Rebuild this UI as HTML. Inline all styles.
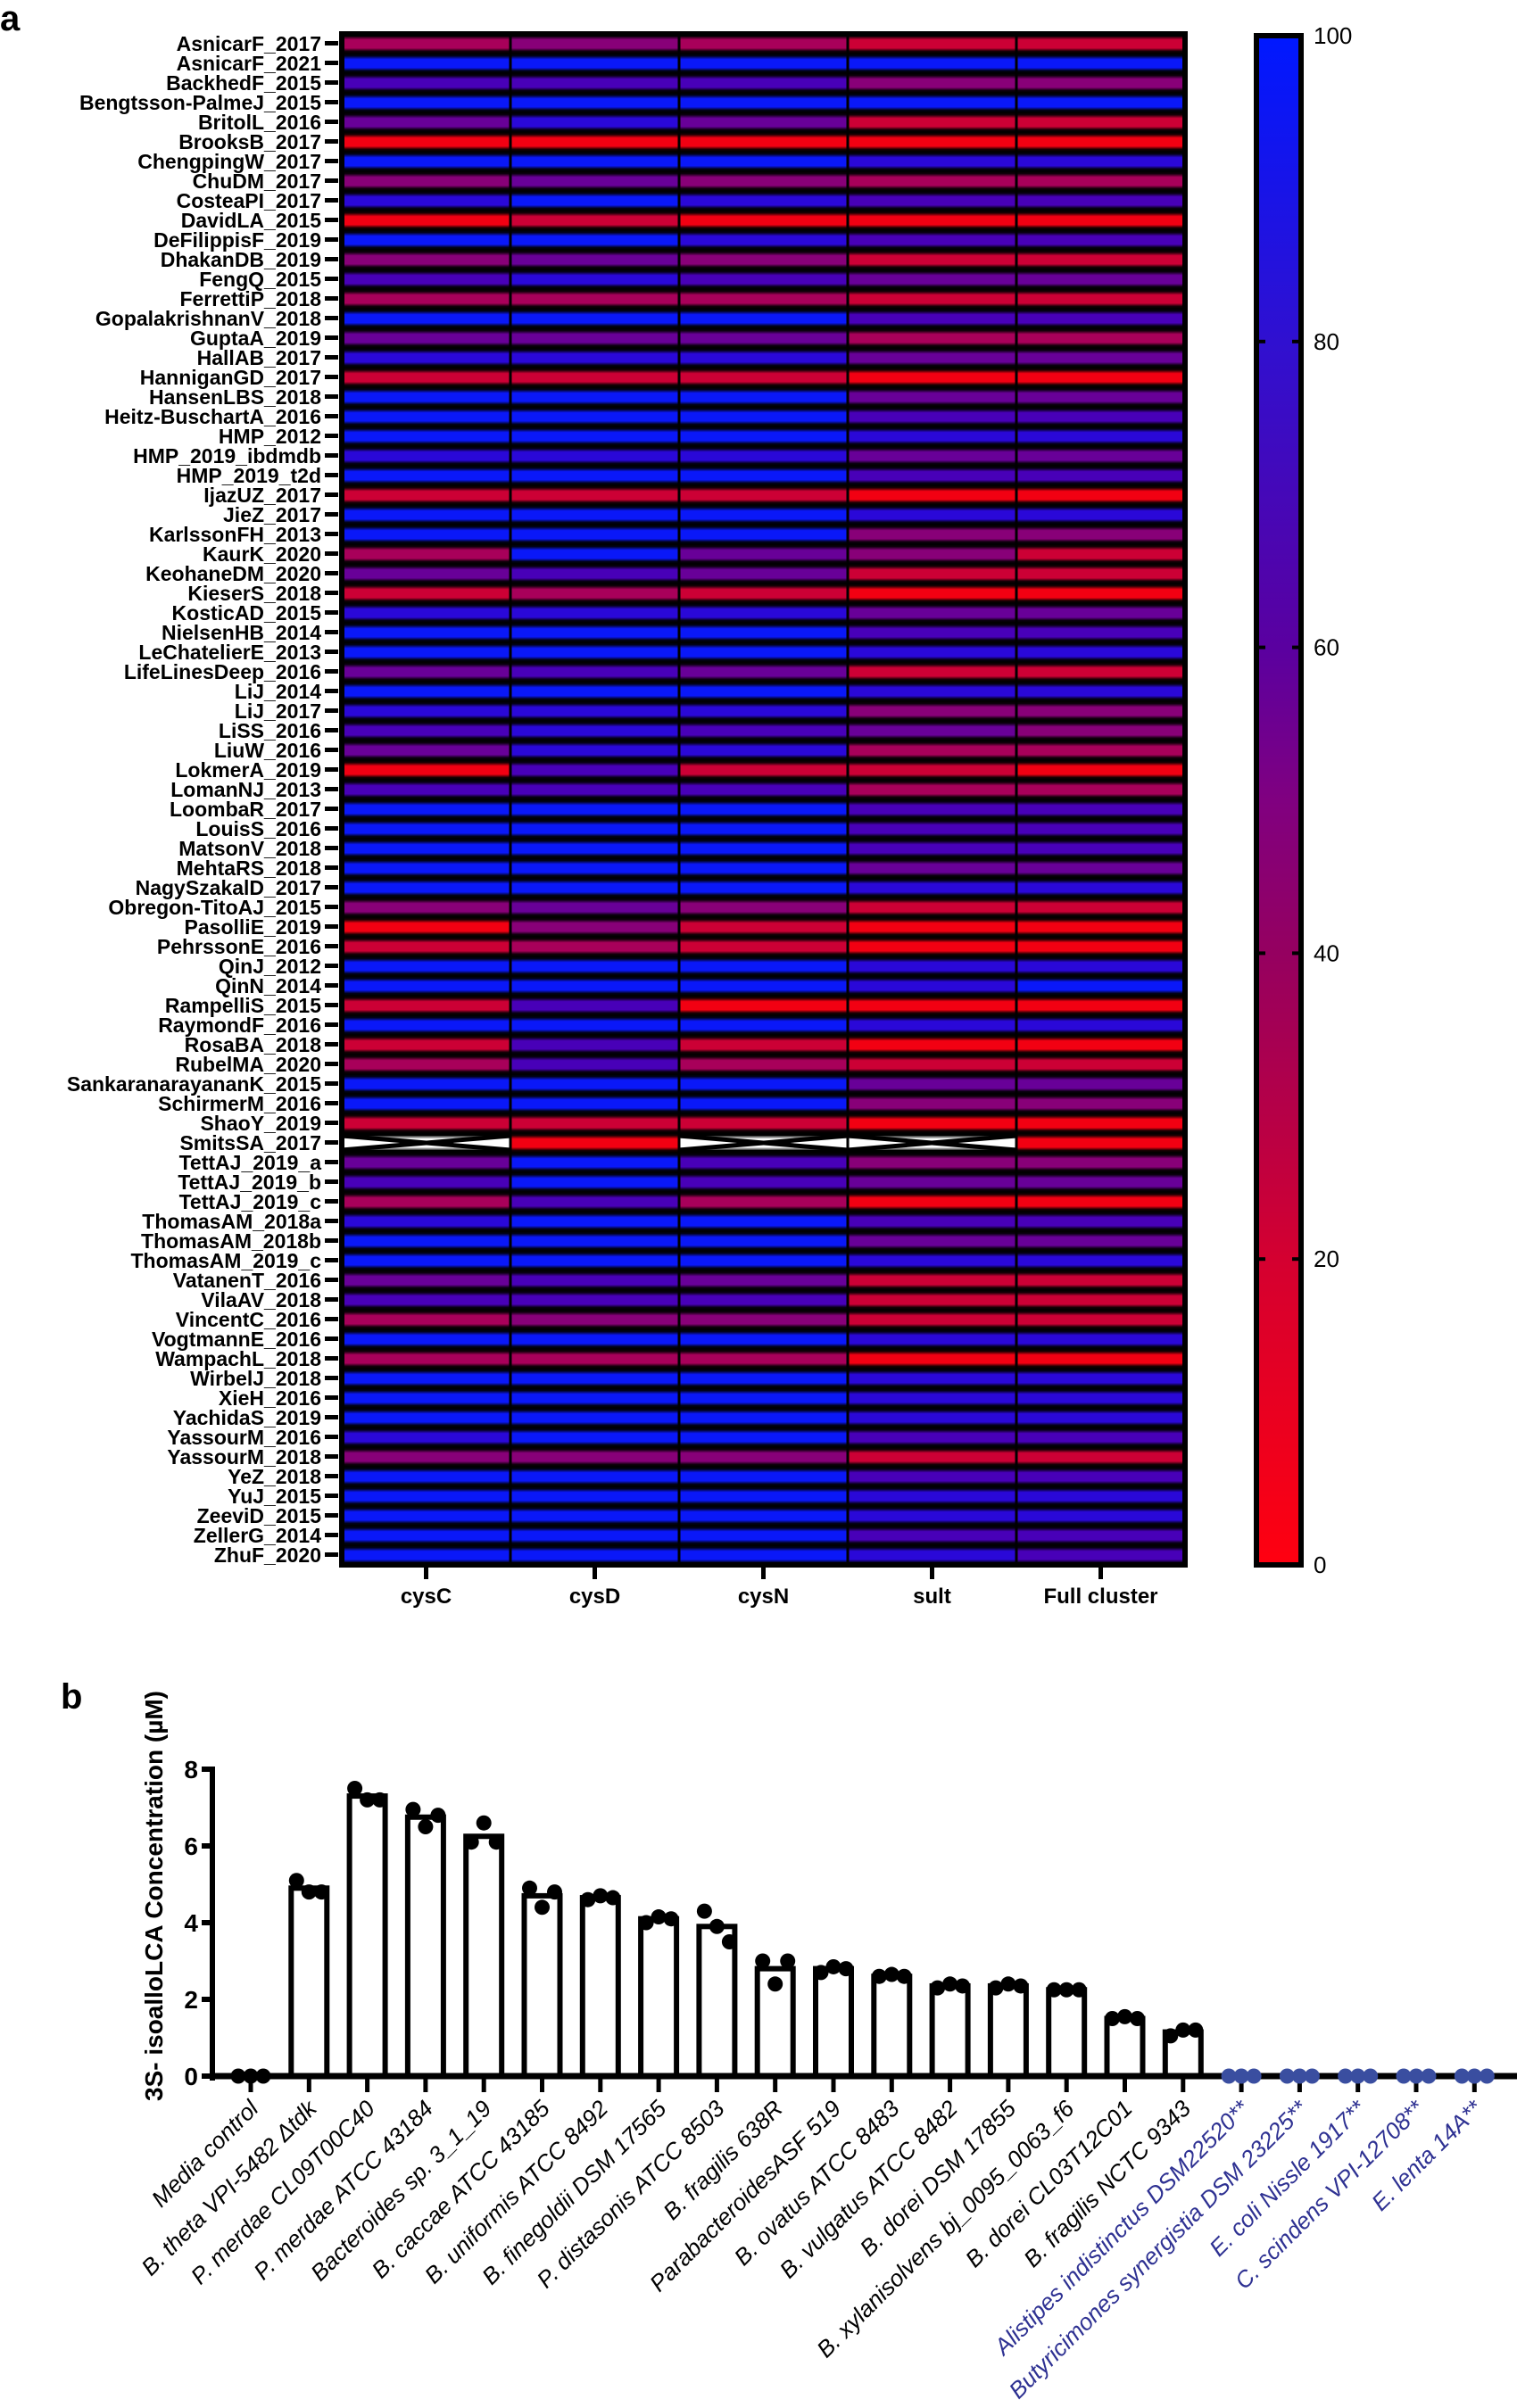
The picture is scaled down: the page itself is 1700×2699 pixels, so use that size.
<!DOCTYPE html>
<html><head><meta charset="utf-8"><style>
html,body{margin:0;padding:0;background:#fff;}
svg{display:block;}
</style></head><body>
<svg id="s" xmlns="http://www.w3.org/2000/svg" width="1700" height="2699" viewBox="0 0 1700 2699">
<defs>
<linearGradient id="cb" x1="0" y1="1" x2="0" y2="0">
<stop offset="0" stop-color="#ff0010"/><stop offset="0.2" stop-color="#d40030"/><stop offset="0.4" stop-color="#950060"/><stop offset="0.5" stop-color="#800080"/><stop offset="0.6" stop-color="#5a00a0"/><stop offset="0.8" stop-color="#3010d0"/><stop offset="1" stop-color="#0018ff"/>
</linearGradient>
<linearGradient id="rg" x1="0" y1="0" x2="0" y2="1">
<stop offset="0" stop-color="#000" stop-opacity="1"/><stop offset="0.12" stop-color="#000" stop-opacity="0.9"/><stop offset="0.3" stop-color="#000" stop-opacity="0"/><stop offset="0.72" stop-color="#000" stop-opacity="0"/><stop offset="0.88" stop-color="#000" stop-opacity="0.9"/><stop offset="1" stop-color="#000" stop-opacity="1"/>
</linearGradient>
<pattern id="rp" x="0" y="38" width="10" height="22" patternUnits="userSpaceOnUse"><rect width="10" height="22" fill="url(#rg)"/></pattern>
</defs>
<text x="0" y="34" font-family="Liberation Sans, sans-serif" font-weight="bold" font-size="40">a</text>
<text x="68" y="1915" font-family="Liberation Sans, sans-serif" font-weight="bold" font-size="40">b</text>
</svg>
<script>
var NS="http://www.w3.org/2000/svg",S=document.getElementById("s");
function el(t,a,txt){var e=document.createElementNS(NS,t);for(var k in a)e.setAttribute(k,a[k]);if(txt!==undefined)e.textContent=txt;S.appendChild(e);return e;}
var rows=[["AsnicarF_2017","23211"],["AsnicarF_2021","77777"],["BackhedF_2015","55533"],["Bengtsson-PalmeJ_2015","77777"],["BritolL_2016","46411"],["BrooksB_2017","00000"],["ChengpingW_2017","77766"],["ChuDM_2017","34322"],["CosteaPI_2017","67655"],["DavidLA_2015","01000"],["DeFilippisF_2019","77655"],["DhakanDB_2019","34311"],["FengQ_2015","56544"],["FerrettiP_2018","22211"],["GopalakrishnanV_2018","77755"],["GuptaA_2019","44422"],["HallAB_2017","66644"],["HanniganGD_2017","11100"],["HansenLBS_2018","77744"],["Heitz-BuschartA_2016","77755"],["HMP_2012","77766"],["HMP_2019_ibdmdb","66644"],["HMP_2019_t2d","77755"],["IjazUZ_2017","11100"],["JieZ_2017","77766"],["KarlssonFH_2013","77733"],["KaurK_2020","27431"],["KeohaneDM_2020","45411"],["KieserS_2018","12100"],["KosticAD_2015","66644"],["NielsenHB_2014","77755"],["LeChatelierE_2013","77766"],["LifeLinesDeep_2016","45411"],["LiJ_2014","77766"],["LiJ_2017","66633"],["LiSS_2016","56543"],["LiuW_2016","46622"],["LokmerA_2019","05110"],["LomanNJ_2013","55522"],["LoombaR_2017","77755"],["LouisS_2016","77755"],["MatsonV_2018","77755"],["MehtaRS_2018","77744"],["NagySzakalD_2017","77766"],["Obregon-TitoAJ_2015","34311"],["PasolliE_2019","03100"],["PehrssonE_2016","12100"],["QinJ_2012","77766"],["QinN_2014","77767"],["RampelliS_2015","15000"],["RaymondF_2016","77766"],["RosaBA_2018","15100"],["RubelMA_2020","25211"],["SankaranarayananK_2015","77744"],["SchirmerM_2016","77733"],["ShaoY_2019","11100"],["SmitsSA_2017","x0xx0"],["TettAJ_2019_a","47533"],["TettAJ_2019_b","57544"],["TettAJ_2019_c","25200"],["ThomasAM_2018a","67755"],["ThomasAM_2018b","77744"],["ThomasAM_2019_c","77766"],["VatanenT_2016","45411"],["VilaAV_2018","55511"],["VincentC_2016","23311"],["VogtmannE_2016","77766"],["WampachL_2018","22200"],["WirbelJ_2018","77766"],["XieH_2016","77766"],["YachidaS_2019","77766"],["YassourM_2016","67755"],["YassourM_2018","33311"],["YeZ_2018","77755"],["YuJ_2015","77766"],["ZeeviD_2015","77766"],["ZellerG_2014","77755"],["ZhuF_2020","77765"]];
var C=["#f20012","#cc0035","#a8005a","#880078","#680098","#4800b8","#2a08d8","#0a18f8"];
var X0=383,CW=189,Y0=38,RH=22,N=rows.length;
el("rect",{x:X0,y:Y0,width:CW*5,height:RH*N,fill:"#000"});
rows.forEach(function(r,i){
 var y=Y0+i*RH;
 for(var j=0;j<5;j++){var c=r[1][j];
  if(c==="x"){el("rect",{x:X0+j*CW,y:y+3,width:CW,height:16,fill:"#fff"});}
  else el("rect",{x:X0+j*CW,y:y,width:CW,height:RH,fill:C[+c]});}
 el("text",{x:360,y:y+19,"text-anchor":"end","font-family":"Liberation Sans, sans-serif","font-weight":"bold","font-size":"23"},r[0]);
 el("rect",{x:364,y:y+8,width:15,height:5,fill:"#000"});
});
el("rect",{x:X0,y:Y0,width:CW*5,height:RH*N,fill:"url(#rp)"});
var yS=Y0+56*RH;[0,2,3].forEach(function(j){var x=X0+j*CW;
 el("line",{x1:x,y1:yS+3,x2:x+CW,y2:yS+19,stroke:"#000","stroke-width":5});
 el("line",{x1:x,y1:yS+19,x2:x+CW,y2:yS+3,stroke:"#000","stroke-width":5});});
for(var j=1;j<5;j++)el("rect",{x:X0+j*CW-1.5,y:Y0,width:3,height:RH*N,fill:"#000"});
el("rect",{x:X0,y:Y0,width:CW*5,height:RH*N,fill:"none",stroke:"#000","stroke-width":6});
["cysC","cysD","cysN","sult","Full cluster"].forEach(function(t,j){var cx=X0+CW*j+CW/2;
 el("rect",{x:cx-2.5,y:Y0+RH*N,width:5,height:16,fill:"#000"});
 el("text",{x:cx,y:1797,"text-anchor":"middle","font-family":"Liberation Sans, sans-serif","font-weight":"bold","font-size":"24"},t);});
el("rect",{x:1408,y:40,width:50,height:1714,fill:"url(#cb)",stroke:"#000","stroke-width":6});
[0,20,40,60,80,100].forEach(function(v){var y=1754-v*17.14;
 if(v>0&&v<100){el("rect",{x:1408,y:y-2,width:10,height:4,fill:"#000"});el("rect",{x:1448,y:y-2,width:10,height:4,fill:"#000"});}
 el("text",{x:1472,y:y+9,"font-family":"Liberation Sans, sans-serif","font-size":"26"},String(v));});
var Y00=2327,U=43,P=65.3,B0=281;
var vals=[0,4.9,7.3,6.75,6.25,4.7,4.65,4.1,3.9,2.8,2.8,2.6,2.35,2.35,2.25,1.5,1.15,0,0,0,0,0];
var dots=[[0,0,0],[5.1,4.8,4.8],[7.5,7.2,7.2],[6.95,6.5,6.8],[6.1,6.6,6.1],[4.9,4.4,4.8],[4.6,4.7,4.65],[4.0,4.15,4.1],[4.3,3.9,3.5],[3.0,2.4,3.0],[2.7,2.85,2.8],[2.6,2.65,2.6],[2.3,2.4,2.35],[2.3,2.4,2.35],[2.25,2.25,2.25],[1.5,1.55,1.5],[1.05,1.2,1.2],[0,0,0],[0,0,0],[0,0,0],[0,0,0],[0,0,0]];
var labs=[["Media control",0],["B. theta VPI-5482 \u0394tdk",0],["P. merdae CL09T00C40",0],["P. merdae ATCC 43184",0],["Bacteroides sp. 3_1_19",0],["B. caccae ATCC 43185",0],["B. uniformis ATCC 8492",0],["B. finegoldii DSM 17565",0],["P. distasonis ATCC 8503",0],["B. fragilis 638R",0],["ParabacteroidesASF 519",0],["B. ovatus ATCC 8483",0],["B. vulgatus ATCC 8482",0],["B. dorei DSM 17855",0],["B. xylanisolvens bj_0095_0063_f6",0],["B. dorei CL03T12C01",0],["B. fragilis NCTC 9343",0],["Alistipes indistinctus DSM22520**",1],["Butyricimones synergistia DSM 23225**",1],["E. coli Nissle 1917**",1],["C. scindens VPI-12708**",1],["E. lenta 14A**",1]];
vals.forEach(function(v,i){var cx=B0+i*P;
 if(v>0){var h=v*U;el("rect",{x:cx-20,y:Y00-h,width:40,height:h,fill:"#fff",stroke:"#000","stroke-width":6});}
 el("rect",{x:cx-2.5,y:Y00,width:5,height:18,fill:"#000"});
});
el("rect",{x:235,y:Y00-3.5,width:1465,height:7,fill:"#000"});
el("rect",{x:235,y:1980,width:6,height:352,fill:"#000"});
[0,2,4,6,8].forEach(function(v){var y=Y00-v*U;el("rect",{x:226,y:y-3,width:12,height:6,fill:"#000"});
 el("text",{x:222,y:y+10,"text-anchor":"end","font-family":"Liberation Sans, sans-serif","font-weight":"bold","font-size":"28"},String(v));});
vals.forEach(function(v,i){var cx=B0+i*P,blue=i>=17;
 dots[i].forEach(function(d,k){el("circle",{cx:cx+(k-1)*14,cy:Y00-d*U,r:8.5,fill:blue?"#3a4ea0":"#000"});});
 var l=labs[i];
 el("text",{x:0,y:0,transform:"translate("+(cx+10)+","+(Y00+38)+") rotate(-45)","text-anchor":"end","font-family":"Liberation Sans, sans-serif","font-style":"italic","font-size":"26",fill:l[1]?"#2e3192":"#000"},l[0]);
});
el("text",{x:0,y:0,transform:"translate(182,2125) rotate(-90)","text-anchor":"middle","font-family":"Liberation Sans, sans-serif","font-weight":"bold","font-size":"28"},"3S- isoalloLCA Concentration (\u00b5M)");
</script>
</body></html>
